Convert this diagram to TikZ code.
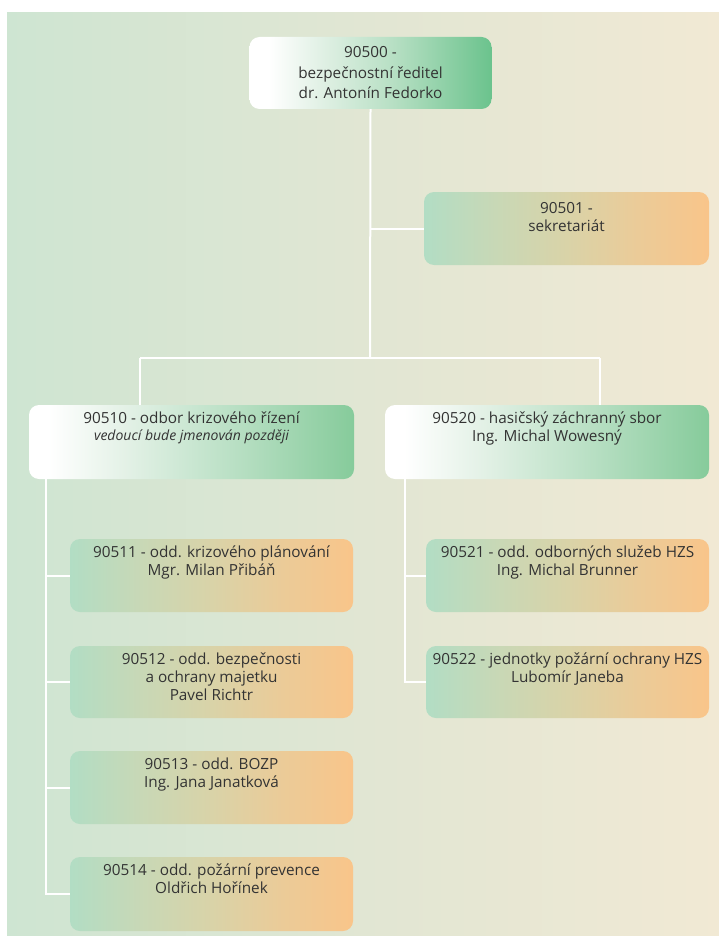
\documentclass[tikz,border=0pt]{standalone}
\usepackage{fontspec}
\setmainfont{Open Sans}
\definecolor{bgL}{HTML}{CEE5D2}
\definecolor{bgM}{HTML}{E1E6D3}
\definecolor{bgR}{HTML}{F1E9D4}
\definecolor{tW}{HTML}{FFFFFF}
\definecolor{tA}{HTML}{E0F0E4}
\definecolor{tB}{HTML}{B6DFC3}
\definecolor{tC}{HTML}{6BC38D}
\definecolor{gA}{HTML}{E3F1E6}
\definecolor{gB}{HTML}{B5DEC1}
\definecolor{gC}{HTML}{86CB9B}
\definecolor{oA}{HTML}{B2DDC4}
\definecolor{oB}{HTML}{C8D8B6}
\definecolor{oC}{HTML}{D9D3A8}
\definecolor{oD}{HTML}{EBCB98}
\definecolor{oE}{HTML}{F9C58A}
\definecolor{txt}{HTML}{333333}
\pgfdeclarehorizontalshading{bgshade}{100bp}{color(0bp)=(bgL); color(25bp)=(bgL); color(50bp)=(bgM); color(75bp)=(bgR); color(100bp)=(bgR)}
\pgfdeclarehorizontalshading{topshade}{100bp}{color(0bp)=(tW); color(25bp)=(tW); color(29bp)=(tW); color(40bp)=(tA); color(55bp)=(tB); color(75bp)=(tC); color(100bp)=(tC)}
\pgfdeclarehorizontalshading{greenshade}{100bp}{color(0bp)=(tW); color(25bp)=(tW); color(28bp)=(tW); color(40bp)=(gA); color(58bp)=(gB); color(75bp)=(gC); color(100bp)=(gC)}
\pgfdeclarehorizontalshading{orangeshade}{100bp}{color(0bp)=(oA); color(25bp)=(oA); color(37.5bp)=(oB); color(50bp)=(oC); color(62.5bp)=(oD); color(75bp)=(oE); color(100bp)=(oE)}
\tikzset{
  box/.style={rectangle, rounded corners=10pt, inner sep=0pt},
  topbox/.style={box, shading=topshade, minimum width=242pt, minimum height=72pt},
  greenbox/.style={box, shading=greenshade, minimum width=325pt, minimum height=74pt},
  orangebox/.style={box, shading=orangeshade, minimum width=283pt, minimum height=73pt},
  lbl/.style={anchor=north, align=center, text=txt, inner sep=0pt, font=\fontsize{15.3}{18}\selectfont},
  toplbl/.style={lbl, font=\fontsize{15.3}{20.5}\selectfont},
  conn/.style={draw=white, line width=2pt},
}
\begin{document}
\begin{tikzpicture}[x=1pt,y=-1pt]
\useasboundingbox (0,0) rectangle (719,936);
\fill[white] (0,0) rectangle (719,936);
\shade[shading=bgshade] (7,13) rectangle (719,936);

\node[topbox] (top) at (370.5,73) {};
\node[orangebox, minimum width=285pt] (sek) at (566.5,228.5) {};
\node[greenbox] (n10) at (191.5,442) {};
\node[greenbox, minimum width=324pt] (n20) at (547,442) {};
\node[orangebox] (n11) at (211.5,575.5) {};
\node[orangebox, minimum height=72pt] (n12) at (211.5,682) {};
\node[orangebox] (n13) at (211.5,787.5) {};
\node[orangebox, minimum height=74pt] (n14) at (211.5,894) {};
\node[orangebox] (n21) at (567.5,575.5) {};
\node[orangebox, minimum height=72pt] (n22) at (567.5,682) {};

\coordinate (j1) at (370,358);
\coordinate (ls) at (140,358);
\coordinate (rs) at (600,358);
\coordinate (s1) at (46,0);
\coordinate (s2) at (405,0);

\draw[conn] (top.south) -- (j1);
\draw[conn] (top.south |- sek.west) -- (sek.west);
\draw[conn] (ls) -- (rs);
\draw[conn] (ls) -- (ls |- n10.north);
\draw[conn] (rs) -- (rs |- n20.north);
\draw[conn] (s1 |- n10.south) -- (s1 |- n14.west) -- (n14.west);
\draw[conn] (s1 |- n11.west) -- (n11.west);
\draw[conn] (s1 |- n12.west) -- (n12.west);
\draw[conn] (s1 |- n13.west) -- (n13.west);
\draw[conn] (s2 |- n20.south) -- (s2 |- n22.west) -- (n22.west);
\draw[conn] (s2 |- n21.west) -- (n21.west);

\node[toplbl] at ([yshift=-9.5pt]top.north) {90500 -\\bezpečnostní ředitel\\dr. Antonín Fedorko};
\node[lbl] at ([yshift=-10.5pt]sek.north) {90501 -\\sekretariát};
\node[lbl] at ([yshift=-6.5pt]n10.north) {90510 - odbor krizového řízení\\[-1pt]{\fontsize{14}{16}\selectfont\itshape vedoucí bude jmenován později}};
\node[lbl] at ([yshift=-6.5pt]n20.north) {90520 - hasičský záchranný sbor\\Ing. Michal Wowesný};
\node[lbl] at ([yshift=-6.5pt]n11.north) {90511 - odd. krizového plánování\\Mgr. Milan Přibáň};
\node[lbl] at ([yshift=-7pt]n12.north) {90512 - odd. bezpečnosti\\a ochrany majetku\\Pavel Richtr};
\node[lbl] at ([yshift=-7pt]n13.north) {90513 - odd. BOZP\\Ing. Jana Janatková};
\node[lbl] at ([yshift=-6.5pt]n14.north) {90514 - odd. požární prevence\\Oldřich Hořínek};
\node[lbl] at ([yshift=-7pt]n21.north) {90521 - odd. odborných služeb HZS\\Ing. Michal Brunner};
\node[lbl] at ([yshift=-6.5pt]n22.north) {90522 - jednotky požární ochrany HZS\\Lubomír Janeba};
\end{tikzpicture}
\end{document}
